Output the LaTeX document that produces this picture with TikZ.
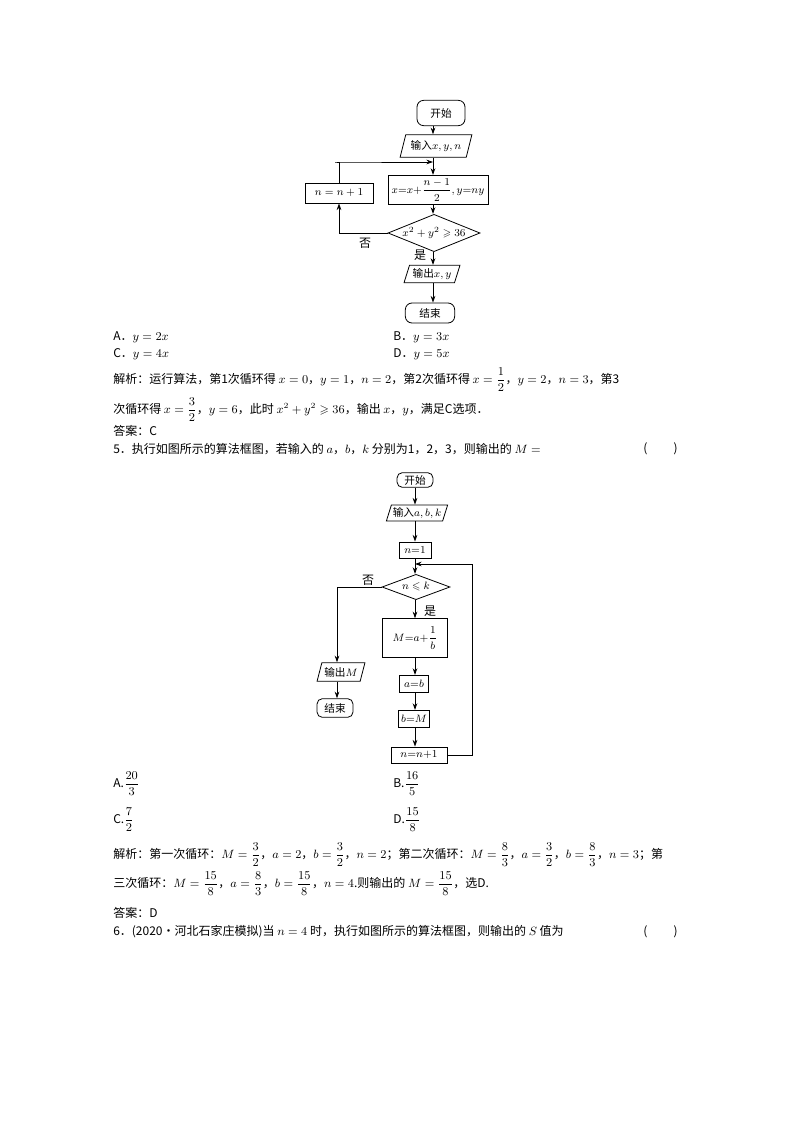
\documentclass[tikz,border=0pt]{standalone}
\usepackage{amsmath,amssymb}
\usepackage{fontspec}
\setmainfont{Noto Sans CJK SC}
\usetikzlibrary{shapes.geometric,arrows.meta}
\begin{document}
\begin{tikzpicture}[x=0.75pt,y=-0.75pt,
  every node/.style={font=\fontsize{9}{11}\selectfont},
  txt/.style={anchor=west,inner sep=0pt},
  fc/.style={font=\fontsize{8}{10}\selectfont,draw,inner sep=1pt,line width=0.6pt},
  term/.style={fc,rounded corners=5pt},
  io/.style={fc,trapezium,trapezium left angle=70,trapezium right angle=110,trapezium stretches=true},
  proc/.style={fc,rectangle},
  dec/.style={fc,diamond,aspect=2.4,inner sep=0pt},
  arr/.style={-{Stealth[length=5pt,width=3.5pt]},line width=0.6pt},
  ln/.style={line width=0.6pt}]
\useasboundingbox (0,0) rectangle (794,1123);
% ---------- flowchart 1
\node[term,minimum width=36pt,minimum height=19pt] (s1) at (441,113) {开始};
\node[io,minimum width=54pt,minimum height=17pt] (i1) at (436,146) {输入$x,y,n$};
\node[proc,minimum width=75pt,minimum height=22pt] (p1) at (438,190) {$x{=}x{+}\dfrac{n-1}{2},y{=}ny$};
\node[proc,minimum width=51pt,minimum height=15pt] (q1) at (339,193) {$n=n+1$};
\node[dec,minimum width=69pt,minimum height=28pt] (d1) at (434,233) {$x^2+y^2\geqslant 36$};
\node[io,minimum width=42pt,minimum height=13pt] (o1) at (432,274) {输出$x,y$};
\node[term,minimum width=37pt,minimum height=15pt] (e1) at (430,313) {结束};
\draw[arr] (s1.south -| 433,0) -- (i1.north -| 433,0);
\draw[arr] (i1.south -| 433,0) -- (p1.north -| 433,0);
\draw[arr] (p1.south -| 433,0) -- (d1.north -| 433,0);
\draw[arr] (d1.south -| 433,0) -- (o1.north -| 433,0);
\draw[arr] (o1.south -| 433,0) -- (e1.north -| 433,0);
\coordinate (c1) at (335,162);
\draw[arr] (d1.west) -| (q1.south);
\draw[arr] (q1.north) |- (c1) -- (433,162);
\node at (365,243) {否};
\node at (420,255) {是};
% ---------- text block 1
\node[txt] at (113,337) {A．$y=2x$};
\node[txt] at (393,337) {B．$y=3x$};
\node[txt] at (113,354) {C．$y=4x$};
\node[txt] at (393,354) {D．$y=5x$};
\node[txt] at (113,380) {解析：运行算法，第1次循环得 $x=0$，$y=1$，$n=2$，第2次循环得 $x=\dfrac{1}{2}$，$y=2$，$n=3$，第3};
\node[txt] at (113,410) {次循环得 $x=\dfrac{3}{2}$，$y=6$，此时 $x^2+y^2\geqslant 36$，输出 $x$，$y$，满足C选项．};
\node[txt] at (113,431) {答案：C};
\node[txt] at (113,449) {5．执行如图所示的算法框图，若输入的 $a$，$b$，$k$ 分别为1，2，3，则输出的 $M=$};
\node[txt] at (643,449) {(\hspace{2.2em})};
% ---------- flowchart 2
\node[term,minimum width=27pt,minimum height=11pt,rounded corners=4pt] (s2) at (415,480) {开始};
\node[io,minimum width=46pt,minimum height=12pt] (i2) at (417,513) {输入$a,b,k$};
\node[proc,minimum width=24pt,minimum height=12pt] (n2) at (415,550) {$n{=}1$};
\node[dec,minimum width=51pt,minimum height=19pt] (d2) at (416,587) {$n\leqslant k$};
\node[proc,minimum width=49pt,minimum height=29pt] (m2) at (415,638) {$M{=}a{+}\dfrac{1}{b}$};
\node[proc,minimum width=22pt,minimum height=13pt] (a2) at (414,684) {$a{=}b$};
\node[proc,minimum width=23pt,minimum height=13pt] (b2) at (414,719) {$b{=}M$};
\node[proc,minimum width=42pt,minimum height=12pt] (k2) at (419,755) {$n{=}n{+}1$};
\node[io,minimum width=36pt,minimum height=14pt] (o2) at (341,672) {输出$M$};
\node[term,minimum width=27pt,minimum height=14pt,rounded corners=4pt] (e2) at (335,708) {结束};
\draw[arr] (s2.south -| 415,0) -- (i2.north -| 415,0);
\draw[arr] (i2.south -| 415,0) -- (n2.north -| 415,0);
\draw[arr] (n2.south -| 415,0) -- (d2.north -| 415,0);
\draw[arr] (d2.south -| 415,0) -- (m2.north -| 415,0);
\draw[arr] (m2.south -| 415,0) -- (a2.north -| 415,0);
\draw[arr] (a2.south -| 415,0) -- (b2.north -| 415,0);
\draw[arr] (b2.south -| 415,0) -- (k2.north -| 415,0);
\draw[arr] (d2.west) -| (o2.north -| 337,0);
\draw[arr] (o2.south -| 337,0) -- (e2.north -| 337,0);
\coordinate (c2) at (472,564);
\draw[arr] (k2.east) -| (c2) -- (415,564);
\node at (368,580) {否};
\node at (430,611) {是};
% ---------- text block 2
\node[txt] at (113,784) {A.$\dfrac{20}{3}$};
\node[txt] at (393,784) {B.$\dfrac{16}{5}$};
\node[txt] at (113,820) {C.$\dfrac{7}{2}$};
\node[txt] at (393,820) {D.$\dfrac{15}{8}$};
\node[txt] at (113,855) {解析：第一次循环：$M=\dfrac{3}{2}$，$a=2$，$b=\dfrac{3}{2}$，$n=2$；第二次循环：$M=\dfrac{8}{3}$，$a=\dfrac{3}{2}$，$b=\dfrac{8}{3}$，$n=3$；第};
\node[txt] at (113,884) {三次循环：$M=\dfrac{15}{8}$，$a=\dfrac{8}{3}$，$b=\dfrac{15}{8}$，$n=4$.则输出的 $M=\dfrac{15}{8}$，选D.};
\node[txt] at (113,913) {答案：D};
\node[txt] at (113,932) {6．(2020·河北石家庄模拟)当 $n=4$ 时，执行如图所示的算法框图，则输出的 $S$ 值为};
\node[txt] at (643,932) {(\hspace{2.2em})};
\end{tikzpicture}
\end{document}
